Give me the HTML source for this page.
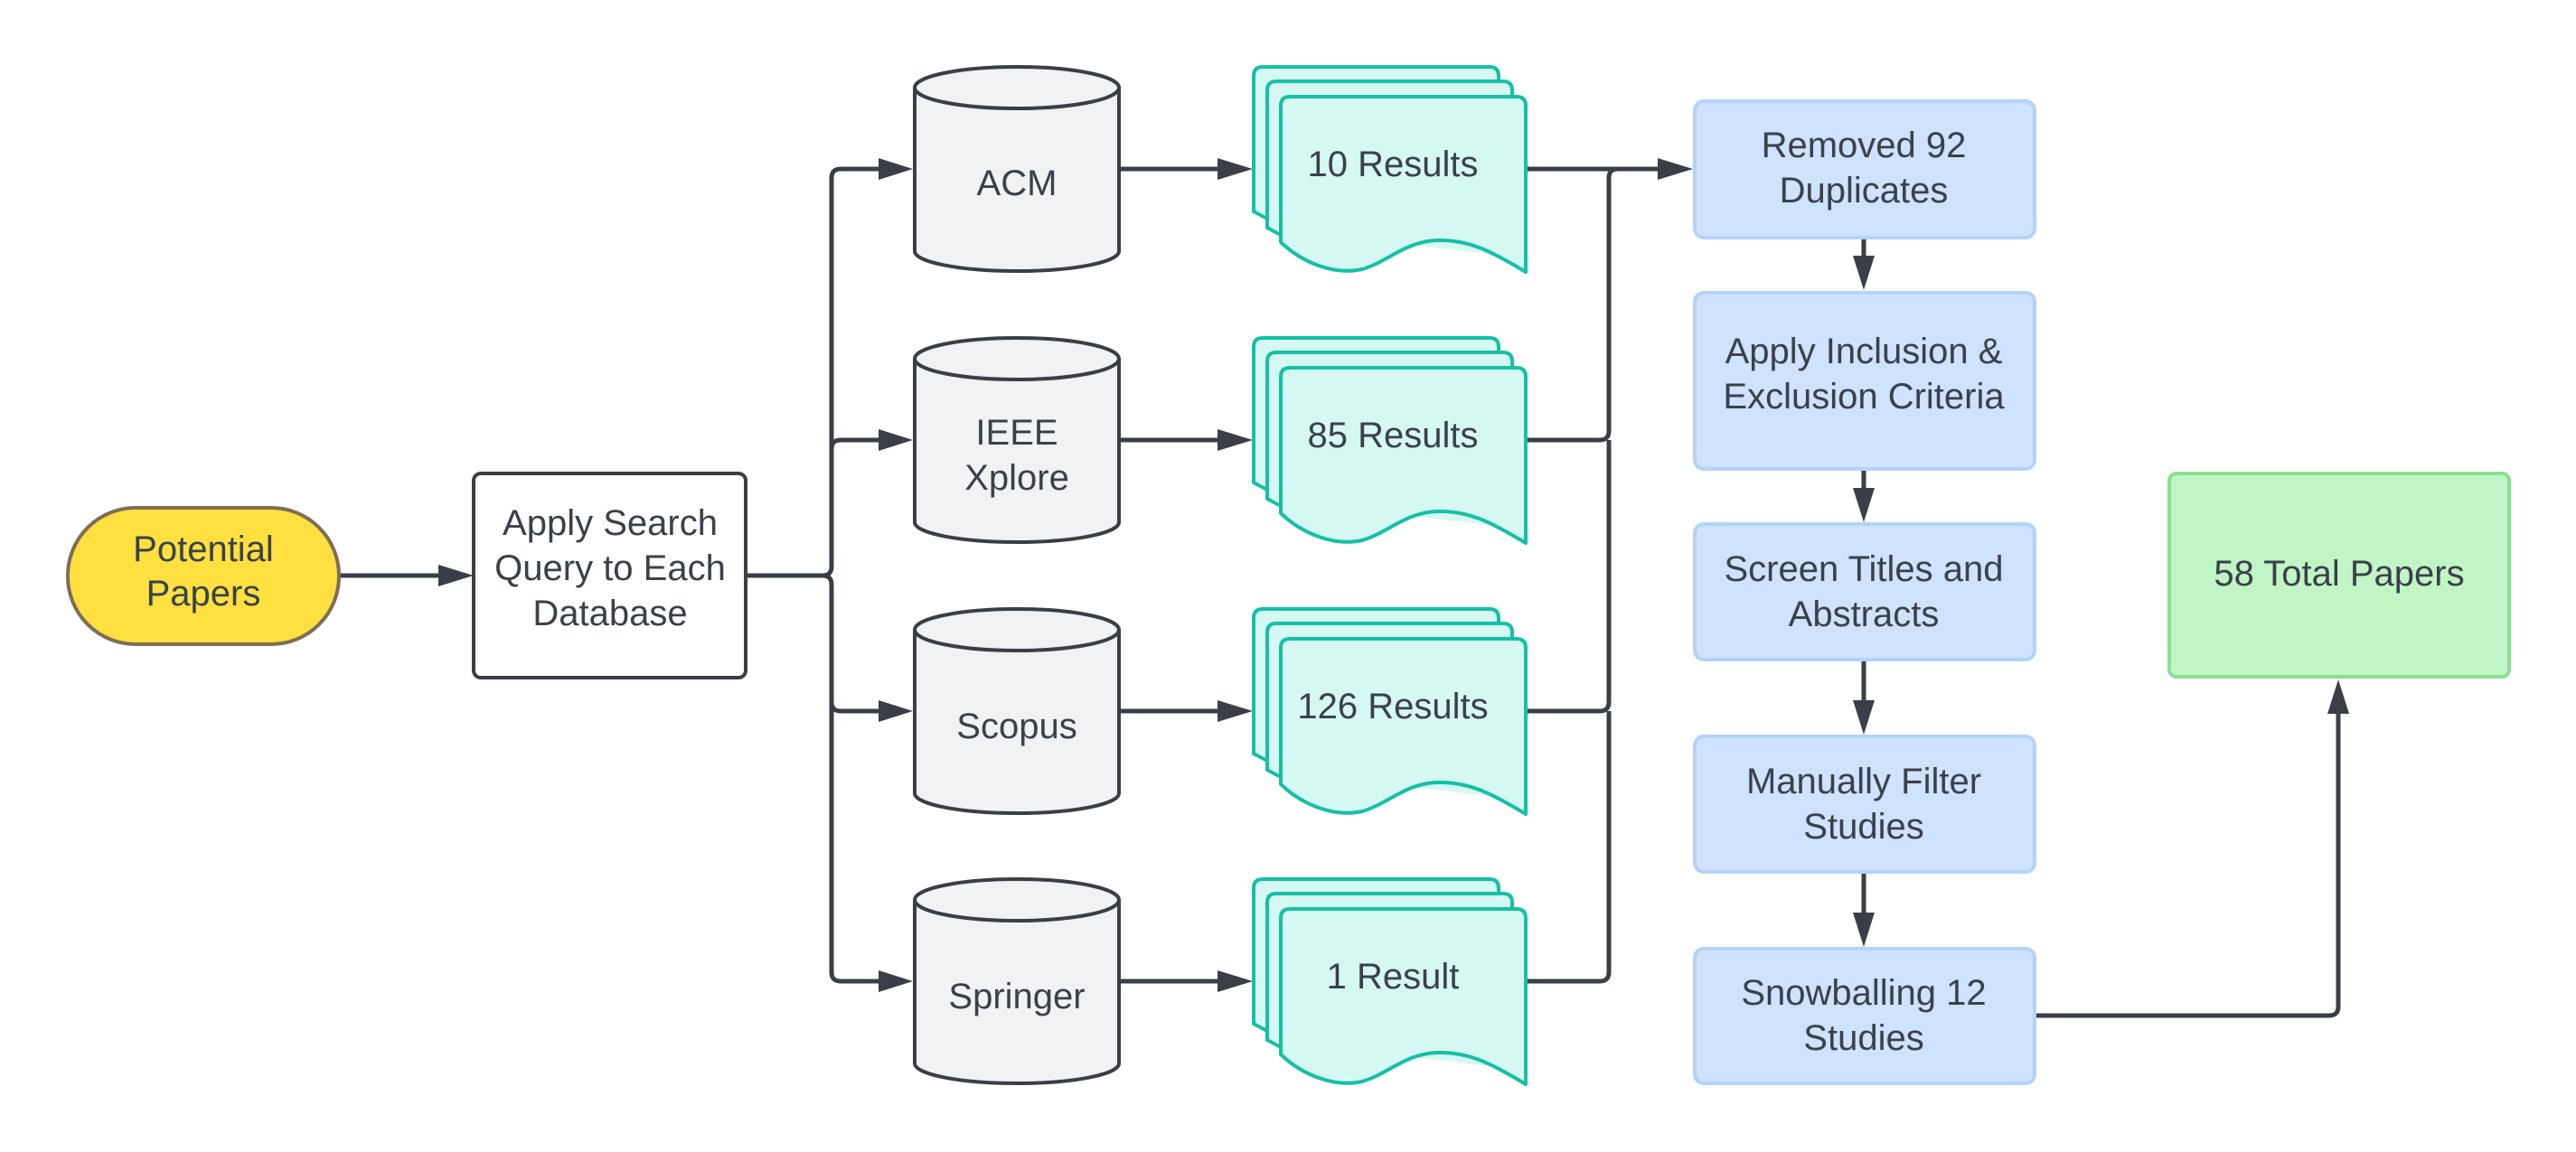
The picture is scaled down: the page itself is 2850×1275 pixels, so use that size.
<!DOCTYPE html>
<html><head><meta charset="utf-8"><style>
html,body{margin:0;padding:0;background:#fff}
svg{display:block}
text{font-family:"Liberation Sans",sans-serif;font-size:40px;fill:#3a414a;text-anchor:middle}
</style></head><body>
<svg width="2850" height="1275" viewBox="0 0 2850 1275" xmlns="http://www.w3.org/2000/svg">
<defs>
<g id="doc">
<path d="M1387,84 Q1387,74 1397,74 L1648,74 Q1658,74 1658,84 L1658,268 L1387,234 Z" fill="#d6f8f2"/>
<path d="M1402,242 L1387,234 L1387,84 Q1387,74 1397,74 L1648,74 Q1658,74 1658,84 L1658,268" fill="none" stroke="#15c0a6" stroke-width="4"/>
<path d="M1402,100 Q1402,90 1412,90 L1663,90 Q1673,90 1673,100 L1673,284 L1402,252 Z" fill="#d6f8f2"/>
<path d="M1417,260 L1402,252 L1402,100 Q1402,90 1412,90 L1663,90 Q1673,90 1673,100 L1673,284" fill="none" stroke="#15c0a6" stroke-width="4"/>
<path d="M1417,117 Q1417,107 1427,107 L1678,107 Q1688,107 1688,117 L1688,301 C1650,278 1625,265 1590,266 C1555,267 1535,290 1507,298 C1475,305 1440,290 1417,268 Z" fill="#d6f8f2" stroke="#15c0a6" stroke-width="4" stroke-linejoin="round"/>
</g>
<g id="cyl">
<path d="M1012,97 L1012,278 A113,22 0 0 0 1238,278 L1238,97" fill="#f1f2f4" stroke="#3a3f47" stroke-width="4"/>
<ellipse cx="1125" cy="97" rx="113" ry="23" fill="#f1f2f4" stroke="#3a3f47" stroke-width="4"/>
</g>
</defs>
<g fill="none" stroke="#3a3f47" stroke-width="5">
<path d="M375,637 L510,637"/>
<path d="M825,637 L910,637 Q920,637 920,627 L920,197 Q920,187 930,187 L985,187"/>
<path d="M910,637 Q920,637 920,647 L920,1076 Q920,1086 930,1086 L985,1086"/>
<path d="M920,497 Q920,487 930,487 L985,487"/>
<path d="M920,777 Q920,787 930,787 L985,787"/>
<path d="M1238,187 L1358,187 M1238,487 L1358,487 M1238,787 L1358,787 M1238,1086 L1358,1086"/>
<path d="M1688,187 L1848,187"/>
<path d="M1688,487 L1770,487 Q1780,487 1780,477 L1780,197 Q1780,187 1790,187"/>
<path d="M1688,787 L1770,787 Q1780,787 1780,777 L1780,487"/>
<path d="M1688,1086 L1770,1086 Q1780,1086 1780,1076 L1780,787"/>
<path d="M2062,263 L2062,290 M2062,519 L2062,550 M2062,730 L2062,785 M2062,965 L2062,1020"/>
<path d="M2251,1124 L2577,1124 Q2587,1124 2587,1114 L2587,785"/>
</g>
<g fill="#3a3f47">
<polygon points="485,625 524,637 485,649"/>
<polygon points="972,175 1010,187 972,199"/>
<polygon points="972,475 1010,487 972,499"/>
<polygon points="972,775 1010,787 972,799"/>
<polygon points="972,1074 1010,1086 972,1098"/>
<polygon points="1347,175 1386,187 1347,199"/>
<polygon points="1347,475 1386,487 1347,499"/>
<polygon points="1347,775 1386,787 1347,799"/>
<polygon points="1347,1074 1386,1086 1347,1098"/>
<polygon points="1834,175 1873,187 1834,199"/>
<polygon points="2050,283 2062,321 2074,283"/>
<polygon points="2050,540 2062,578 2074,540"/>
<polygon points="2050,775 2062,813 2074,775"/>
<polygon points="2050,1010 2062,1048 2074,1010"/>
<polygon points="2575,790 2587,752 2599,790"/>
</g>
<rect x="75" y="562" width="300" height="151" rx="75" fill="#ffe03f" stroke="#7d6e55" stroke-width="4"/>
<text x="225" y="621">Potential</text><text x="225" y="670">Papers</text>
<rect x="524" y="524" width="301" height="226" rx="8" fill="#fff" stroke="#3a3f47" stroke-width="4"/>
<text x="675" y="592">Apply Search</text><text x="675" y="642">Query to Each</text><text x="675" y="692">Database</text>
<use href="#cyl"/><use href="#cyl" y="300"/><use href="#cyl" y="600"/><use href="#cyl" y="899"/>
<text x="1125" y="216">ACM</text>
<text x="1125" y="492">IEEE</text><text x="1125" y="542">Xplore</text>
<text x="1125" y="817">Scopus</text>
<text x="1125" y="1116">Springer</text>
<use href="#doc"/><use href="#doc" y="300"/><use href="#doc" y="600"/><use href="#doc" y="899"/>
<text x="1541" y="195">10 Results</text>
<text x="1541" y="495">85 Results</text>
<text x="1541" y="795">126 Results</text>
<text x="1541" y="1094">1 Result</text>
<g fill="#cfe2ff" stroke="#b3d3fb" stroke-width="4">
<rect x="1875" y="112" width="376" height="151" rx="10"/>
<rect x="1875" y="324" width="376" height="195" rx="10"/>
<rect x="1875" y="580" width="376" height="150" rx="10"/>
<rect x="1875" y="815" width="376" height="150" rx="10"/>
<rect x="1875" y="1050" width="376" height="149" rx="10"/>
</g>
<rect x="2400" y="524" width="376" height="225" rx="8" fill="#c2f5c5" stroke="#88e08f" stroke-width="4"/>
<text x="2062" y="174">Removed 92</text><text x="2062" y="224">Duplicates</text>
<text x="2062" y="402">Apply Inclusion &amp;</text><text x="2062" y="452">Exclusion Criteria</text>
<text x="2062" y="643">Screen Titles and</text><text x="2062" y="693">Abstracts</text>
<text x="2062" y="878">Manually Filter</text><text x="2062" y="928">Studies</text>
<text x="2062" y="1112">Snowballing 12</text><text x="2062" y="1162">Studies</text>
<text x="2588" y="648">58 Total Papers</text>
</svg>
</body></html>
